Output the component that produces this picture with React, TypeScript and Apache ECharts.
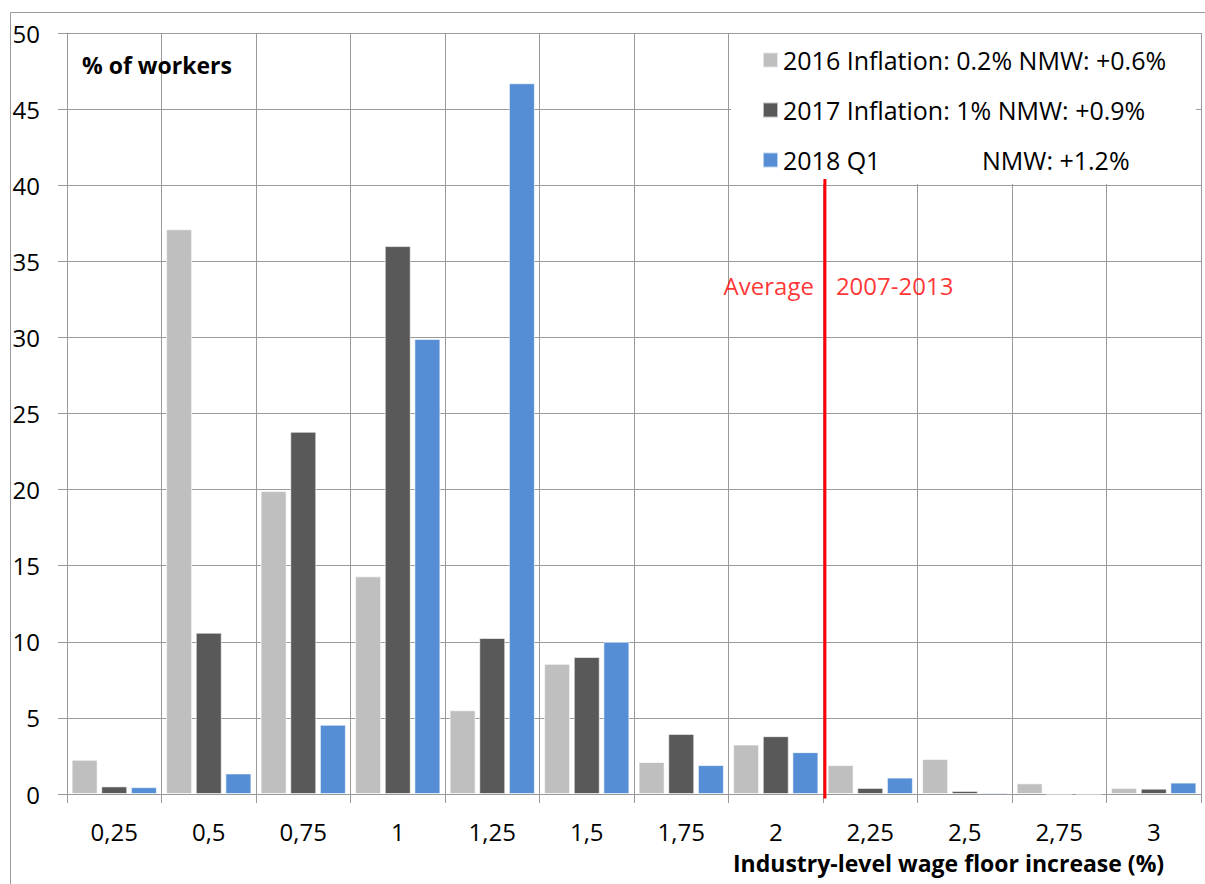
import React, { useEffect, useRef } from "react";
import * as echarts from "echarts";

const categories = ["0,25", "0,5", "0,75", "1", "1,25", "1,5", "1,75", "2", "2,25", "2,5", "2,75", "3"];
const seriesNames = [
  "2016 Inflation: 0.2% NMW: +0.6%",
  "2017 Inflation: 1% NMW: +0.9%",
  "2018 Q1 NMW: +1.2%",
];
const values2016 = [2.25, 37.1, 19.9, 14.3, 5.5, 8.55, 2.1, 3.25, 1.9, 2.3, 0.7, 0.4];
const values2017 = [0.5, 10.6, 23.8, 36.0, 10.25, 9.0, 3.95, 3.8, 0.4, 0.2, 0, 0.35];
const values2018 = [0.45, 1.35, 4.55, 29.9, 46.7, 10.0, 1.9, 2.75, 1.08, 0.1, 0, 0.75];
const yTicks = { min: 0, max: 50, interval: 5 };
const averageValue = 2.13;
const averageLineRange = [-0.3, 40.4];
const averageLabelY = 33.4;
const averageLabels = ["Average", "2007-2013"];
const yAxisTitle = "% of workers";
const xAxisTitle = "Industry-level wage floor increase (%)";

const colors = ["#BFBFBF", "#595959", "#558ED5"];
const FONT = "Open Sans";
const GRID = "#9a9a9a";

export default function App() {
  const ref = useRef<HTMLDivElement>(null);
  useEffect(() => {
    if (!ref.current) return;
    const chart = echarts.init(ref.current, null, { renderer: "svg" });
    const barSeries = [values2016, values2017, values2018].map((d, i) => ({
      name: seriesNames[i],
      type: "bar",
      xAxisIndex: 0,
      yAxisIndex: 0,
      data: d,
      barWidth: 26,
      barGap: "14%",
      itemStyle: { color: colors[i], borderColor: "rgba(255,255,255,0.6)", borderWidth: 1 },
      z: 2,
    }));
    chart.setOption({
      animation: false,
      backgroundColor: "#fff",
      textStyle: { fontFamily: FONT },
      grid: { left: 67, right: 4, top: 33, bottom: 90, containLabel: false, outerBoundsMode: "none" },
      title: [
        {
          text: yAxisTitle,
          left: 82,
          top: 53,
          padding: 0,
          textStyle: { fontFamily: FONT, fontSize: 23, fontWeight: "bold", color: "#000", lineHeight: 23 },
        },
        {
          text: xAxisTitle,
          left: 733,
          top: 851,
          padding: 0,
          textStyle: { fontFamily: FONT, fontSize: 23, fontWeight: "bold", color: "#000", lineHeight: 23 },
        },
      ],
      legend: {
        orient: "vertical",
        left: 731,
        top: 34,
        data: seriesNames,
        selectedMode: false,
        backgroundColor: "#fff",
        padding: [11, 30, 9, 31],
        itemWidth: 15,
        itemHeight: 15,
        itemGap: 20,
        icon: "rect",
        textStyle: {
          fontFamily: FONT,
          fontSize: 25,
          color: "#000",
          lineHeight: 30,
          padding: [0, 0, 0, 0],
          rich: {
            a: { fontFamily: FONT, fontSize: 25, color: "#000", width: 199, lineHeight: 30 },
            b: { fontFamily: FONT, fontSize: 25, color: "#000", lineHeight: 30 },
          },
        },
        formatter: (name: string) =>
          name === seriesNames[2] ? "{a|2018 Q1}{b|NMW: +1.2%}" : name,
        z: 4,
      },
      xAxis: [
        {
          type: "category",
          data: categories,
          boundaryGap: true,
          axisLine: { show: true, lineStyle: { color: GRID, width: 1 } },
          axisTick: { show: true, length: 9, lineStyle: { color: GRID } },
          splitLine: { show: true, lineStyle: { color: GRID, width: 1 } },
          axisLabel: { fontFamily: FONT, fontSize: 24, color: "#000", margin: 25 },
        },
        {
          type: "value",
          min: 0.125,
          max: 3.125,
          show: false,
        },
      ],
      yAxis: {
        type: "value",
        min: yTicks.min,
        max: yTicks.max,
        interval: yTicks.interval,
        axisLine: { show: true, lineStyle: { color: GRID, width: 1 } },
        axisTick: { show: true, length: 9, lineStyle: { color: GRID } },
        splitLine: { show: true, lineStyle: { color: GRID, width: 1 } },
        axisLabel: { fontFamily: FONT, fontSize: 24, color: "#000", margin: 27 },
      },
      series: [
        ...barSeries,
        {
          name: "average",
          type: "line",
          xAxisIndex: 1,
          yAxisIndex: 0,
          data: averageLineRange.map((y) => [averageValue, y]),
          symbol: "none",
          clip: false,
          lineStyle: { color: "#FF0000", width: 3 },
          z: 10,
          silent: true,
        },
        {
          name: "averageLabel",
          type: "scatter",
          xAxisIndex: 1,
          yAxisIndex: 0,
          symbolSize: 0,
          z: 10,
          silent: true,
          data: [
            {
              value: [averageValue, averageLabelY],
              label: {
                show: true,
                position: "left",
                distance: 11,
                formatter: averageLabels[0],
                fontFamily: FONT,
                fontSize: 24,
                color: "#FF0000",
              },
            },
            {
              value: [averageValue, averageLabelY],
              label: {
                show: true,
                position: "right",
                distance: 11,
                formatter: averageLabels[1],
                fontFamily: FONT,
                fontSize: 24,
                color: "#FF0000",
              },
            },
          ],
        },
      ],
      graphic: [
        {
          type: "rect",
          shape: { x: 10.5, y: 12.5, width: 1300, height: 1000 },
          style: { fill: "none", stroke: "#9a9a9a", lineWidth: 1 },
          silent: true,
        },
      ],
    });
    return () => chart.dispose();
  }, []);
  return (
    <div
      ref={ref}
      style={{ position: "absolute", left: 0, top: 0, width: 1205, height: 884 }}
    />
  );
}
